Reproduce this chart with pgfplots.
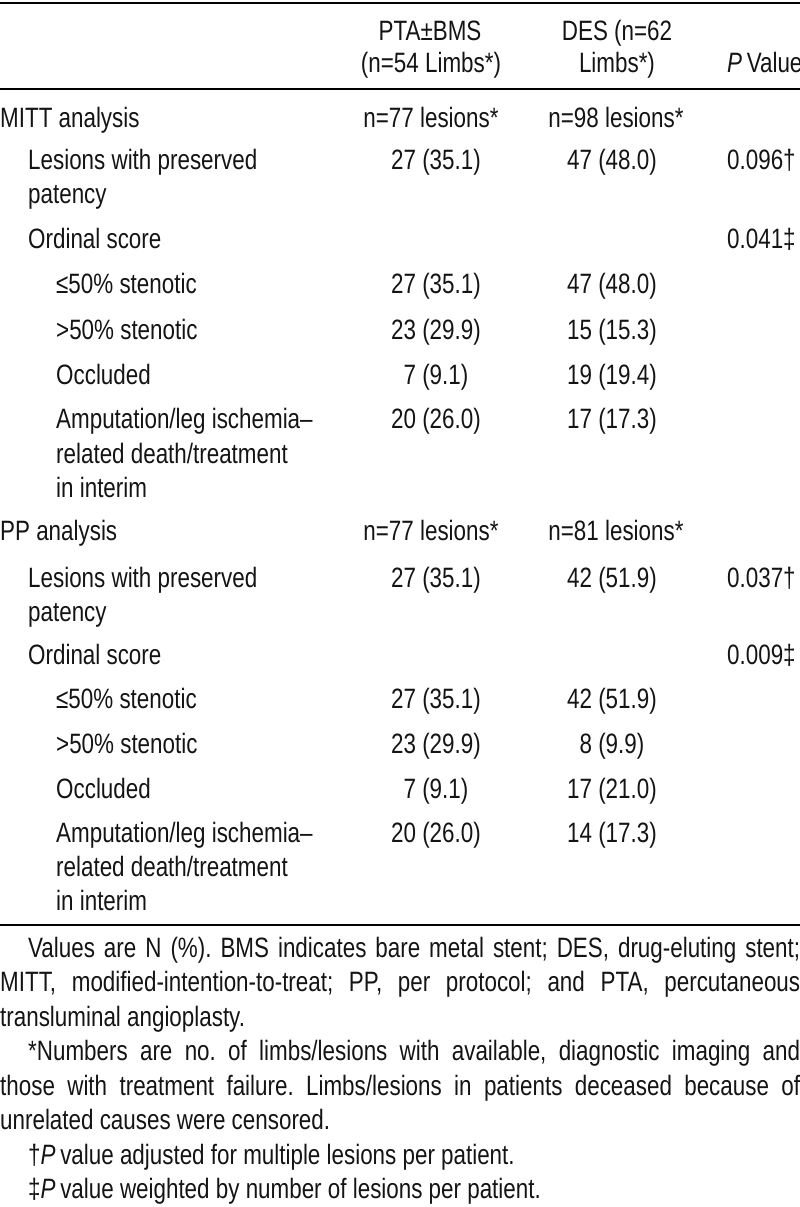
\documentclass[border=0pt]{standalone}
\usepackage{pgfplots}
\pgfplotsset{compat=1.18}
\usepackage{fontspec}
\setmainfont{Liberation Sans}[FakeStretch=0.8]
\frenchspacing
\tikzset{
  tf/.style={font=\fontsize{28bp}{34bp}\selectfont\frenchspacing, inner sep=0pt, text=black!92},
  L/.style={tf, anchor=base west},
  C/.style={tf, anchor=base},
}
\begin{document}
\begin{tikzpicture}
\begin{axis}[name=ax, width=800bp, height=1207bp, scale only axis, hide axis,
  xmin=0, xmax=800, ymin=0, ymax=1207, y dir=reverse, clip=false]
% rules
\draw[line width=2bp] (axis cs:0,3) -- (axis cs:800,3);
\draw[line width=1.5bp] (axis cs:0,89) -- (axis cs:800,89);
\draw[line width=2bp] (axis cs:0,925) -- (axis cs:800,925);
% header
\node[C] at (axis cs:430,41) {PTA±BMS};
\node[C] at (axis cs:431,73) {(n=54 Limbs*)};
\node[C] at (axis cs:617,41) {DES (n=62};
\node[C] at (axis cs:617,73) {Limbs*)};
\node[L] at (axis cs:727,73) {\textit{P}\,Value};
% MITT block
\node[L] at (axis cs:0,128) {MITT analysis};
\node[C] at (axis cs:431,128) {n=77 lesions*};
\node[C] at (axis cs:616,128) {n=98 lesions*};
\node[L] at (axis cs:28,170) {Lesions with preserved};
\node[C] at (axis cs:436,170) {27 (35.1)};
\node[C] at (axis cs:612,170) {47 (48.0)};
\node[L] at (axis cs:727,170) {0.096†};
\node[L] at (axis cs:28,204) {patency};
\node[L] at (axis cs:28,248) {Ordinal score};
\node[L] at (axis cs:727,248) {0.041‡};
\node[L] at (axis cs:56,293) {≤50\% stenotic};
\node[C] at (axis cs:436,293) {27 (35.1)};
\node[C] at (axis cs:612,293) {47 (48.0)};
\node[L] at (axis cs:56,339) {>50\% stenotic};
\node[C] at (axis cs:436,339) {23 (29.9)};
\node[C] at (axis cs:612,339) {15 (15.3)};
\node[L] at (axis cs:56,384) {Occluded};
\node[C] at (axis cs:436,384) {7 (9.1)};
\node[C] at (axis cs:612,384) {19 (19.4)};
\node[L] at (axis cs:56,428) {Amputation/leg ischemia–};
\node[C] at (axis cs:436,428) {20 (26.0)};
\node[C] at (axis cs:612,428) {17 (17.3)};
\node[L] at (axis cs:56,463) {related death/treatment};
\node[L] at (axis cs:56,497) {in interim};
% PP block
\node[L] at (axis cs:0,540) {PP analysis};
\node[C] at (axis cs:431,540) {n=77 lesions*};
\node[C] at (axis cs:616,540) {n=81 lesions*};
\node[L] at (axis cs:28,587) {Lesions with preserved};
\node[C] at (axis cs:436,587) {27 (35.1)};
\node[C] at (axis cs:612,587) {42 (51.9)};
\node[L] at (axis cs:727,587) {0.037†};
\node[L] at (axis cs:28,621) {patency};
\node[L] at (axis cs:28,664) {Ordinal score};
\node[L] at (axis cs:727,664) {0.009‡};
\node[L] at (axis cs:56,708) {≤50\% stenotic};
\node[C] at (axis cs:436,708) {27 (35.1)};
\node[C] at (axis cs:612,708) {42 (51.9)};
\node[L] at (axis cs:56,753) {>50\% stenotic};
\node[C] at (axis cs:436,753) {23 (29.9)};
\node[C] at (axis cs:612,753) {8 (9.9)};
\node[L] at (axis cs:56,798) {Occluded};
\node[C] at (axis cs:436,798) {7 (9.1)};
\node[C] at (axis cs:612,798) {17 (21.0)};
\node[L] at (axis cs:56,842) {Amputation/leg ischemia–};
\node[C] at (axis cs:436,842) {20 (26.0)};
\node[C] at (axis cs:612,842) {14 (17.3)};
\node[L] at (axis cs:56,876) {related death/treatment};
\node[L] at (axis cs:56,910) {in interim};
% footnotes
\node[L] at (axis cs:28,957) {\makebox[772bp][s]{Values are N (\%). BMS indicates bare metal stent; DES, drug-eluting stent;}};
\node[L] at (axis cs:0,991) {\makebox[800bp][s]{MITT, modified-intention-to-treat; PP, per protocol; and PTA, percutaneous}};
\node[L] at (axis cs:0,1026) {transluminal angioplasty.};
\node[L] at (axis cs:28,1060) {\makebox[772bp][s]{*Numbers are no. of limbs/lesions with available, diagnostic imaging and}};
\node[L] at (axis cs:0,1095) {\makebox[800bp][s]{those with treatment failure. Limbs/lesions in patients deceased because of}};
\node[L] at (axis cs:0,1129) {unrelated causes were censored.};
\node[L] at (axis cs:28,1164) {†\textit{P}\,value adjusted for multiple lesions per patient.};
\node[L] at (axis cs:28,1198) {‡\textit{P}\,value weighted by number of lesions per patient.};
\end{axis}
\pgfresetboundingbox
\useasboundingbox (ax.south west) rectangle (ax.north east);
\end{tikzpicture}
\end{document}
